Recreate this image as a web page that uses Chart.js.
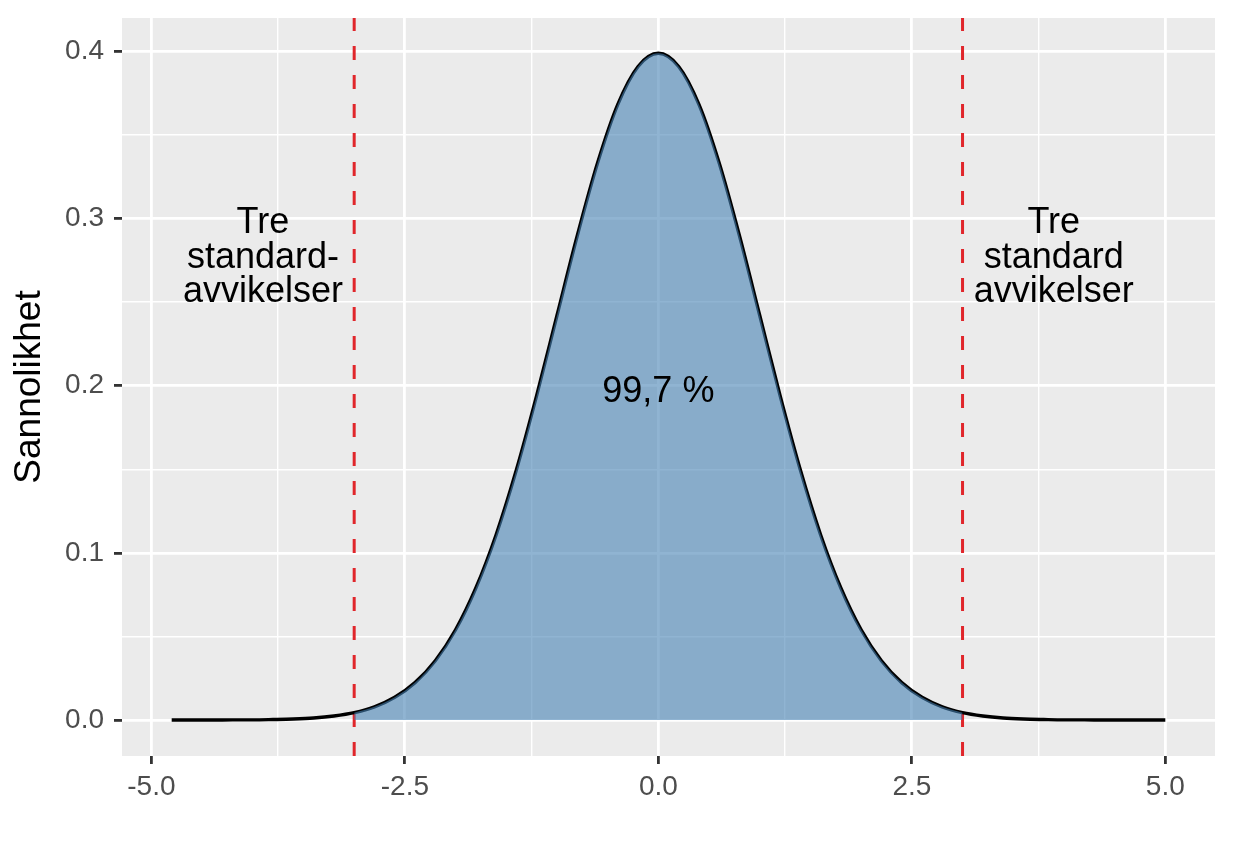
<!DOCTYPE html>
<html lang="no">
<head>
<meta charset="utf-8">
<title>Normalfordeling</title>
<script src="https://cdn.jsdelivr.net/npm/chart.js@4/dist/chart.umd.min.js"></script>
<style>
  html, body { margin: 0; padding: 0; background: #ffffff; }
  #wrap { width: 1234px; height: 864px; }
</style>
</head>
<body>
<div id="wrap"><canvas id="fordeling" width="1234" height="864"></canvas></div>
<script>
// Verdier lest av figuren (standard normalfordeling)
const xVerdier = [
  -4.8, -4.6, -4.4, -4.2, -4.0, -3.8, -3.6, -3.4, -3.2, -3.0,
  -2.8, -2.6, -2.4, -2.2, -2.0, -1.8, -1.6, -1.4, -1.2, -1.0,
  -0.8, -0.6, -0.4, -0.2, 0.0, 0.2, 0.4, 0.6, 0.8, 1.0,
  1.2, 1.4, 1.6, 1.8, 2.0, 2.2, 2.4, 2.6, 2.8, 3.0,
  3.2, 3.4, 3.6, 3.8, 4.0, 4.2, 4.4, 4.6, 4.8, 5.0
];
const sannsynlighet = [
  0.0000, 0.0000, 0.0000, 0.0001, 0.0001, 0.0003, 0.0006, 0.0012, 0.0024, 0.0044,
  0.0079, 0.0136, 0.0224, 0.0355, 0.0540, 0.0790, 0.1109, 0.1497, 0.1942, 0.2420,
  0.2897, 0.3332, 0.3683, 0.3910, 0.3989, 0.3910, 0.3683, 0.3332, 0.2897, 0.2420,
  0.1942, 0.1497, 0.1109, 0.0790, 0.0540, 0.0355, 0.0224, 0.0136, 0.0079, 0.0044,
  0.0024, 0.0012, 0.0006, 0.0003, 0.0001, 0.0001, 0.0000, 0.0000, 0.0000, 0.0000
];

// Grensene for tre standardavvik
const sdGrenser = [-3, 3];

// Akser
const xTicks = [-5.0, -3.75, -2.5, -1.25, 0.0, 1.25, 2.5, 3.75, 5.0];
const xMajor = [-5.0, -2.5, 0.0, 2.5, 5.0];
const yTicks = [0.0, 0.05, 0.1, 0.15, 0.2, 0.25, 0.3, 0.35, 0.4];
const yMajor = [0.0, 0.1, 0.2, 0.3, 0.4];
const xMin = -5.29, xMax = 5.49;
const yMin = -0.0215, yMax = 0.42;

// Tekster i panelet
const tekstX = [-3.9, 3.9, 0.0];
const tekstY = [0.2765, 0.2765, 0.1965];
const tekster = [
  ["Tre", "standard-", "avvikelser"],
  ["Tre", "standard", "avvikelser"],
  ["99,7 %"]
];

const FONT = "'Liberation Sans', Arial, Helvetica, sans-serif";

function erMajor(liste, v) {
  return liste.some((m) => Math.abs(m - v) < 1e-9);
}

const kurve = xVerdier.map((x, i) => ({ x: x, y: sannsynlighet[i] }));
const omraade = kurve.filter((p) => p.x >= sdGrenser[0] && p.x <= sdGrenser[1]);

// Grå bakgrunn i panelet
const panelPlugin = {
  id: "panel",
  beforeDraw(chart) {
    const a = chart.chartArea;
    const ctx = chart.ctx;
    ctx.save();
    ctx.fillStyle = "#ebebeb";
    ctx.fillRect(a.left, a.top, a.right - a.left, a.bottom - a.top);
    ctx.restore();
  },
};

// Tekstene skrives over kurven
const tekstPlugin = {
  id: "tekster",
  afterDatasetsDraw(chart) {
    const ctx = chart.ctx;
    const sx = chart.scales.x;
    const sy = chart.scales.y;
    ctx.save();
    ctx.fillStyle = "#000000";
    ctx.font = "36px " + FONT;
    ctx.textAlign = "center";
    ctx.textBaseline = "middle";
    const linje = 34.5;
    tekster.forEach((linjer, i) => {
      const px = sx.getPixelForValue(tekstX[i]);
      const py = sy.getPixelForValue(tekstY[i]);
      const start = py - ((linjer.length - 1) * linje) / 2;
      linjer.forEach((t, j) => ctx.fillText(t, px, start + j * linje));
    });
    ctx.restore();
  },
};

const datasets = [
  {
    data: omraade,
    borderWidth: 0,
    borderColor: "rgba(0,0,0,0)",
    backgroundColor: "rgba(70,130,180,0.6)",
    fill: "origin",
    pointRadius: 0,
    cubicInterpolationMode: "monotone",
  },
  {
    data: kurve,
    borderColor: "#000000",
    borderWidth: 3.4,
    fill: false,
    pointRadius: 0,
    cubicInterpolationMode: "monotone",
  },
];

sdGrenser.forEach((g) => {
  datasets.push({
    data: [{ x: g, y: yMin }, { x: g, y: yMax }],
    borderColor: "#e0262b",
    borderWidth: 3,
    borderDash: [14, 15],
    fill: false,
    pointRadius: 0,
  });
});

new Chart(document.getElementById("fordeling"), {
  type: "line",
  data: { datasets: datasets },
  plugins: [panelPlugin, tekstPlugin],
  options: {
    responsive: false,
    animation: false,
    devicePixelRatio: 1,
    layout: { padding: { top: 18, right: 19, left: 0, bottom: 0 } },
    plugins: { legend: { display: false }, tooltip: { enabled: false } },
    scales: {
      x: {
        type: "linear",
        min: xMin,
        max: xMax,
        afterBuildTicks: (s) => { s.ticks = xTicks.map((v) => ({ value: v })); },
        afterFit: (s) => {
          s.height = 108;
          s.paddingLeft = 0;
          s.paddingRight = 0;
        },
        border: { display: false },
        grid: {
          color: "#ffffff",
          lineWidth: (c) => (erMajor(xMajor, c.tick.value) ? 2.8 : 1.4),
          tickColor: (c) => (erMajor(xMajor, c.tick.value) ? "#333333" : "rgba(0,0,0,0)"),
          tickWidth: 2.8,
          tickLength: 8,
        },
        ticks: {
          autoSkip: false,
          maxRotation: 0,
          padding: 6,
          color: "#4d4d4d",
          font: { family: FONT, size: 28 },
          callback: (v) => (erMajor(xMajor, v) ? v.toFixed(1) : ""),
        },
      },
      y: {
        type: "linear",
        min: yMin,
        max: yMax,
        afterBuildTicks: (s) => { s.ticks = yTicks.map((v) => ({ value: v })); },
        afterFit: (s) => {
          s.width = 122;
          s.paddingTop = 0;
          s.paddingBottom = 0;
        },
        border: { display: false },
        grid: {
          color: "#ffffff",
          lineWidth: (c) => (erMajor(yMajor, c.tick.value) ? 2.8 : 1.4),
          tickColor: (c) => (erMajor(yMajor, c.tick.value) ? "#333333" : "rgba(0,0,0,0)"),
          tickWidth: 2.8,
          tickLength: 8,
        },
        ticks: {
          autoSkip: false,
          padding: 10,
          color: "#4d4d4d",
          font: { family: FONT, size: 28 },
          callback: (v) => (erMajor(yMajor, v) ? v.toFixed(1) : ""),
        },
        title: {
          display: true,
          text: "Sannolikhet",
          color: "#000000",
          font: { family: FONT, size: 37 },
          padding: { top: 8, bottom: 0 },
        },
      },
    },
  },
});
</script>
</body>
</html>
